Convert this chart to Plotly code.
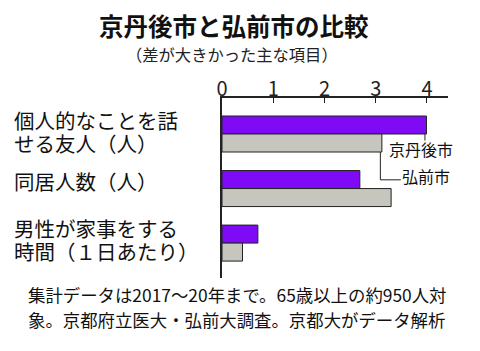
import plotly.graph_objects as go

categories = ["個人的なことを話せる友人（人）", "同居人数（人）", "男性が家事をする時間（1日あたり）"]
label_lines = [["個人的なことを話", "せる友人（人）"], ["同居人数（人）"], ["男性が家事をする", "時間（１日あたり）"]]
kyotango = [3.99, 2.69, 0.70]
hirosaki = [3.12, 3.30, 0.40]
series_names = ["京丹後市", "弘前市"]
tick_vals = [0, 1, 2, 3, 4]

W, H = 480, 351
ML, MR, MT, MB = 222, 32, 98, 73
PW, PH = W - ML - MR, H - MT - MB
FONT = "Noto Sans CJK JP"
LFONT = "Liberation Sans, Noto Sans CJK JP"

def px(x):
    return (x - ML) / PW

def py(y):
    return 1 - (y - MT) / PH

fig = go.Figure()
fig.add_trace(go.Bar(y=categories, x=kyotango, orientation="h", name=series_names[0],
                     marker=dict(color="#7f0af5", line=dict(color="#222222", width=1))))
fig.add_trace(go.Bar(y=categories, x=hirosaki, orientation="h", name=series_names[1],
                     marker=dict(color="#c6c6be", line=dict(color="#222222", width=1))))

ann = []
# title & subtitle
ann.append(dict(text="<b>京丹後市と弘前市の比較</b>", x=px(234), y=py(25), xref="paper", yref="paper",
                showarrow=False, xanchor="center", yanchor="middle", font=dict(size=24.5, color="#111", family=FONT)))
ann.append(dict(text="（差が大きかった主な項目）", x=px(232), y=py(54), xref="paper", yref="paper",
                showarrow=False, xanchor="center", yanchor="middle", font=dict(size=16.3, color="#222", family=FONT)))
# category labels
label_y = [[121, 144], [182], [229, 252]]
for lines, ys in zip(label_lines, label_y):
    for t, yy in zip(lines, ys):
        ann.append(dict(text=t, x=px(12), y=py(yy), xref="paper", yref="paper", showarrow=False,
                        xanchor="left", yanchor="middle", font=dict(size=20.5, color="#111", family=LFONT)))
# series labels
ann.append(dict(text=series_names[0], x=3.22, y=0.27, xref="x", yref="y", showarrow=False,
                xanchor="left", yanchor="middle", font=dict(size=16, color="#111", family=FONT)))
ann.append(dict(text=series_names[1], x=3.48, y=0.77, xref="x", yref="y", showarrow=False,
                xanchor="left", yanchor="middle", font=dict(size=16, color="#111", family=FONT)))
# footer
foot = ["集計データは2017～20年まで。65歳以上の約950人対", "象。京都府立医大・弘前大調査。京都大がデータ解析"]
for t, yy in zip(foot, [294, 319]):
    ann.append(dict(text=t, x=px(26), y=py(yy), xref="paper", yref="paper", showarrow=False,
                    xanchor="left", yanchor="middle", font=dict(size=17.4, color="#111", family=FONT)))

shapes = [
    dict(type="line", x0=kyotango[0] - 0.03, x1=kyotango[0] - 0.03, y0=0, y1=0.12, xref="x", yref="y",
         line=dict(color="#222", width=1)),
    dict(type="path", path=f"M {hirosaki[0]-0.03},0.33 L {hirosaki[0]-0.03},0.84 L 3.49,0.84", xref="x", yref="y",
         line=dict(color="#222", width=1)),
]

fig.update_layout(
    width=W, height=H, margin=dict(l=ML, r=MR, t=MT, b=MB),
    paper_bgcolor="white", plot_bgcolor="white",
    barmode="group", bargap=0.34, bargroupgap=0,
    showlegend=False, annotations=ann, shapes=shapes,
    xaxis=dict(side="top", range=[0, 4.41], tickvals=tick_vals, ticks="inside", ticklen=5,
               tickcolor="#222", showgrid=False, zeroline=False, showline=True, linecolor="#222", linewidth=1.5,
               ticklabelstandoff=-8,
               tickfont=dict(size=20, color="#222", family=FONT)),
    yaxis=dict(range=[2.64, -0.66], showticklabels=False, ticks="", showgrid=False, zeroline=False,
               showline=True, linecolor="#222", linewidth=1.5),
)
fig.write_html("out.html")
